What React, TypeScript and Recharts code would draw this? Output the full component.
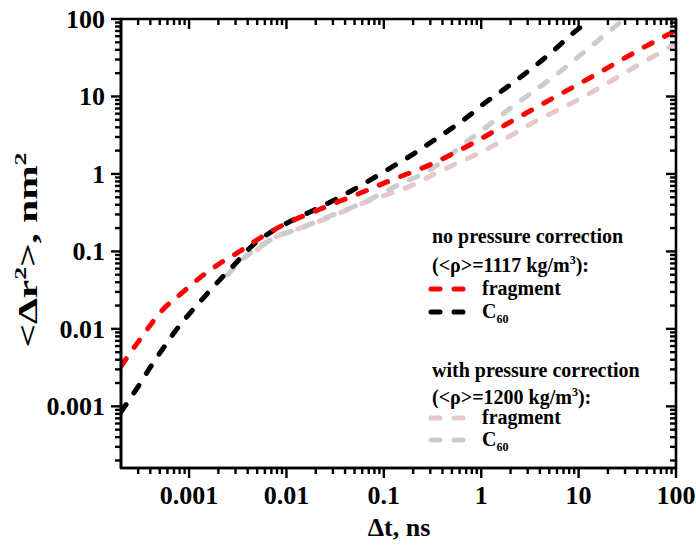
import React from 'react';
import { LineChart, Line, XAxis, YAxis } from 'recharts';

const FONT = "'Times New Roman', 'Liberation Serif', Times, serif";

// ---- axes / ticks ----
const xMajorTicks = [0.001, 0.01, 0.1, 1, 10, 100];
const xMajorLabels = ['0.001', '0.01', '0.1', '1', '10', '100'];
const yMajorTicks = [0.001, 0.01, 0.1, 1, 10, 100];
const yMajorLabels = ['0.001', '0.01', '0.1', '1', '10', '100'];
const minorMultipliers = [2, 3, 4, 5, 6, 7, 8, 9];
const decadeStarts = [0.0001, 0.001, 0.01, 0.1, 1, 10];
const xDomain: [number, number] = [0.0002, 100];
const yDomain: [number, number] = [0.00016, 100];

// ---- series: no pressure correction ----
const fragNoX = [0.0002, 0.0003, 0.00054, 0.00087, 0.0013, 0.002, 0.0033, 0.0045, 0.0086, 0.022, 0.06, 0.1, 0.17, 0.3, 0.5, 0.77, 1, 3.16, 13.7, 56.6, 100];
const fragNoY = [0.0033, 0.0068, 0.0178, 0.03, 0.046, 0.068, 0.1, 0.13, 0.209, 0.35, 0.58, 0.76, 0.99, 1.32, 1.8, 2.38, 2.86, 6.5, 18, 49, 71];

const c60NoX = [0.0002, 0.0003, 0.0004, 0.00053, 0.00072, 0.001, 0.0014, 0.002, 0.003, 0.0045, 0.0073, 0.0117, 0.019, 0.03, 0.048, 0.08, 0.124, 0.2, 0.31, 0.5, 0.77, 1, 1.84, 4.3, 10, 12];
const c60NoY = [0.00085, 0.0018, 0.0032, 0.0054, 0.0093, 0.0155, 0.025, 0.041, 0.07, 0.12, 0.185, 0.255, 0.34, 0.45, 0.62, 0.9, 1.25, 1.8, 2.6, 3.9, 5.8, 7.6, 13.2, 30, 75, 90];

// ---- series: with pressure correction ----
const fragWithX = [0.005, 0.0075, 0.0148, 0.024, 0.042, 0.067, 0.124, 0.2, 0.32, 0.5, 0.82, 1.32, 2.12, 3.4, 5.7, 9.6, 15.4, 24.7, 39.7, 64, 100];
const fragWithY = [0.105, 0.15, 0.205, 0.257, 0.345, 0.44, 0.575, 0.725, 0.975, 1.28, 1.7, 2.3, 3.25, 4.6, 6.4, 8.9, 12.4, 17.6, 25, 35, 49];

const c60WithX = [0.0025, 0.0035, 0.005, 0.0075, 0.014, 0.025, 0.065, 0.16, 0.28, 0.45, 0.64, 1, 2.4, 5.7, 13, 20, 26];
const c60WithY = [0.05, 0.078, 0.11, 0.15, 0.2, 0.27, 0.44, 0.78, 1.07, 1.65, 2.35, 3.6, 8.4, 18.5, 43, 67, 88];

const RED = '#ff0000';
const BLACK = '#000000';
const PINK = '#e6c8c8';
const GREY = '#cccccc';

// ---- layout ----
const W = 696;
const H = 550;
const MARGIN = { top: 19, right: 20, bottom: 20, left: 0 };
const X_AXIS_H = 62;
const Y_AXIS_W = 121;
const PLOT = {
  left: MARGIN.left + Y_AXIS_W,
  right: W - MARGIN.right,
  top: MARGIN.top,
  bottom: H - MARGIN.bottom - X_AXIS_H,
};

const zip = (xs: number[], ys: number[]) => xs.map((x, i) => ({ x, y: ys[i] }));

const buildMinor = (dom: [number, number]) =>
  decadeStarts
    .flatMap((d) => minorMultipliers.map((m) => +(d * m).toPrecision(6)))
    .filter((v) => v > dom[0] * 1.0001 && v < dom[1]);

const xMinorTicks = buildMinor(xDomain);
const yMinorTicks = buildMinor(yDomain);

// same log mapping as the chart's axes (domain -> plot box)
const logPos = (v: number, dom: [number, number], a: number, b: number) =>
  a + ((Math.log10(v) - Math.log10(dom[0])) / (Math.log10(dom[1]) - Math.log10(dom[0]))) * (b - a);
const sx = (v: number) => logPos(v, xDomain, PLOT.left, PLOT.right);
const sy = (v: number) => logPos(v, yDomain, PLOT.bottom, PLOT.top);

const majorIndex = (majors: number[], v: number) =>
  majors.findIndex((m) => Math.abs(m - v) / m < 1e-6);

const MAJ = 10;
const MIN = 6;
const TW = 2.4;
const FRAME_W = 2.6;
const TICK_FONT = 26;
const axisLineStyle = { stroke: '#000', strokeWidth: FRAME_W };

const BottomLabel = (props: any) => {
  const { x, y, payload } = props;
  const i = majorIndex(xMajorTicks, payload.value);
  if (i < 0) return <g />;
  return (
    <text x={x} y={y + 36} textAnchor="middle" fontFamily={FONT} fontWeight="bold" fontSize={TICK_FONT} fill="#000" stroke="none">
      {xMajorLabels[i]}
    </text>
  );
};

const LeftLabel = (props: any) => {
  const { x, y, payload } = props;
  const i = majorIndex(yMajorTicks, payload.value);
  if (i < 0) return <g />;
  return (
    <text x={x - 16} y={y + 9} textAnchor="end" fontFamily={FONT} fontWeight="bold" fontSize={TICK_FONT} fill="#000" stroke="none">
      {yMajorLabels[i]}
    </text>
  );
};

const DASH = '9 14';
const LW = 5;

const LegendRow = ({ y, color, children }: { y: number; color: string; children: React.ReactNode }) => (
  <g>
    <line x1={431} x2={463} y1={y - 6} y2={y - 6} stroke={color} strokeWidth={LW} strokeDasharray={DASH} strokeLinecap="round" />
    <text x={482} y={y} fontFamily={FONT} fontWeight="bold" fontSize={20} fill="#000">
      {children}
    </text>
  </g>
);

const C60Label = () => (
  <>
    C<tspan dy={5} fontSize={12}>60</tspan>
  </>
);

const Seg = ({ x1, y1, x2, y2, w }: { x1: number; y1: number; x2: number; y2: number; w: number }) => (
  <line x1={x1} y1={y1} x2={x2} y2={y2} stroke="#000000" strokeWidth={w} strokeLinecap="butt" />
);

const Frame = () => {
  const xt = [...xMajorTicks.map((v) => ({ v, len: MAJ })), ...xMinorTicks.map((v) => ({ v, len: MIN }))];
  const yt = [...yMajorTicks.map((v) => ({ v, len: MAJ })), ...yMinorTicks.map((v) => ({ v, len: MIN }))];
  return (
    <g>
      <Seg x1={PLOT.left - 1} y1={PLOT.top} x2={PLOT.right + 1} y2={PLOT.top} w={FRAME_W} />
      <Seg x1={PLOT.right} y1={PLOT.top} x2={PLOT.right} y2={PLOT.bottom + 1} w={FRAME_W} />
      <Seg x1={PLOT.left - 1} y1={PLOT.bottom} x2={PLOT.right + 1} y2={PLOT.bottom} w={FRAME_W} />
      <Seg x1={PLOT.left} y1={PLOT.top} x2={PLOT.left} y2={PLOT.bottom + 1} w={FRAME_W} />
      {xt.map(({ v, len }) => (
        <g key={`x${v}`}>
          <Seg x1={sx(v)} x2={sx(v)} y1={PLOT.bottom} y2={PLOT.bottom + len} w={TW} />
          <Seg x1={sx(v)} x2={sx(v)} y1={PLOT.top} y2={PLOT.top + len} w={TW} />
        </g>
      ))}
      {yt.map(({ v, len }) => (
        <g key={`y${v}`}>
          <Seg x1={PLOT.left - len} x2={PLOT.left} y1={sy(v)} y2={sy(v)} w={TW} />
          <Seg x1={PLOT.right - len} x2={PLOT.right} y1={sy(v)} y2={sy(v)} w={TW} />
        </g>
      ))}
    </g>
  );
};

export default function App() {
  return (
    <div style={{ position: 'absolute', left: 0, top: 0, width: W, height: H, background: '#fff' }}>
      <LineChart width={W} height={H} margin={MARGIN}>
        <XAxis
          xAxisId="b"
          type="number"
          dataKey="x"
          scale="log"
          domain={xDomain}
          allowDataOverflow
          ticks={xMajorTicks}
          interval={0}
          tickSize={0}
          tickMargin={0}
          tickLine={false}
          tick={BottomLabel}
          axisLine={axisLineStyle}
          stroke="#000"
          height={X_AXIS_H}
        />
        <YAxis
          yAxisId="l"
          type="number"
          dataKey="y"
          scale="log"
          domain={yDomain}
          allowDataOverflow
          ticks={yMajorTicks}
          interval={0}
          tickSize={0}
          tickMargin={0}
          tickLine={false}
          tick={LeftLabel}
          axisLine={axisLineStyle}
          stroke="#000"
          width={Y_AXIS_W}
        />
        <Line xAxisId="b" yAxisId="l" data={zip(fragWithX, fragWithY)} dataKey="y" type="monotone" stroke={PINK} strokeWidth={LW} strokeDasharray={DASH} strokeLinecap="round" dot={false} isAnimationActive={false} />
        <Line xAxisId="b" yAxisId="l" data={zip(c60WithX, c60WithY)} dataKey="y" type="monotone" stroke={GREY} strokeWidth={LW} strokeDasharray={DASH} strokeLinecap="round" dot={false} isAnimationActive={false} />
        <Line xAxisId="b" yAxisId="l" data={zip(c60NoX, c60NoY)} dataKey="y" type="monotone" stroke={BLACK} strokeWidth={LW} strokeDasharray={DASH} strokeLinecap="round" dot={false} isAnimationActive={false} />
        <Line xAxisId="b" yAxisId="l" data={zip(fragNoX, fragNoY)} dataKey="y" type="monotone" stroke={RED} strokeWidth={LW} strokeDasharray={DASH} strokeLinecap="round" dot={false} isAnimationActive={false} />
      </LineChart>
      <svg width={W} height={H} style={{ position: 'absolute', left: 0, top: 0, pointerEvents: 'none' }}>
        <Frame />
        {/* axis titles */}
        <text x={399} y={536} textAnchor="middle" fontFamily={FONT} fontWeight="bold" fontSize={26} fill="#000">
          Δt, ns
        </text>
        <text
          transform="translate(37,250) rotate(-90)"
          textAnchor="middle"
          fontFamily={FONT}
          fontWeight="bold"
          fontSize={27}
          fill="#000"
          textLength={195}
          lengthAdjust="spacingAndGlyphs"
        >
          &lt;Δr<tspan dy={-11} fontSize={17}>2</tspan>
          <tspan dy={11}>&gt;, nm</tspan>
          <tspan dy={-11} fontSize={17}>2</tspan>
        </text>
        {/* legend group 1 */}
        <text x={432} y={243} fontFamily={FONT} fontWeight="bold" fontSize={20} fill="#000">no pressure correction</text>
        <text x={432} y={272} fontFamily={FONT} fontWeight="bold" fontSize={20} fill="#000">
          (&lt;ρ&gt;=1117 kg/m<tspan dy={-8} fontSize={12}>3</tspan><tspan dy={8}>):</tspan>
        </text>
        <LegendRow y={295} color={RED}>fragment</LegendRow>
        <LegendRow y={318} color={BLACK}><C60Label /></LegendRow>
        {/* legend group 2 */}
        <text x={432} y={377} fontFamily={FONT} fontWeight="bold" fontSize={20} fill="#000">with pressure correction</text>
        <text x={432} y={404} fontFamily={FONT} fontWeight="bold" fontSize={20} fill="#000">
          (&lt;ρ&gt;=1200 kg/m<tspan dy={-8} fontSize={12}>3</tspan><tspan dy={8}>):</tspan>
        </text>
        <LegendRow y={424} color={PINK}>fragment</LegendRow>
        <LegendRow y={446} color={GREY}><C60Label /></LegendRow>
      </svg>
    </div>
  );
}
